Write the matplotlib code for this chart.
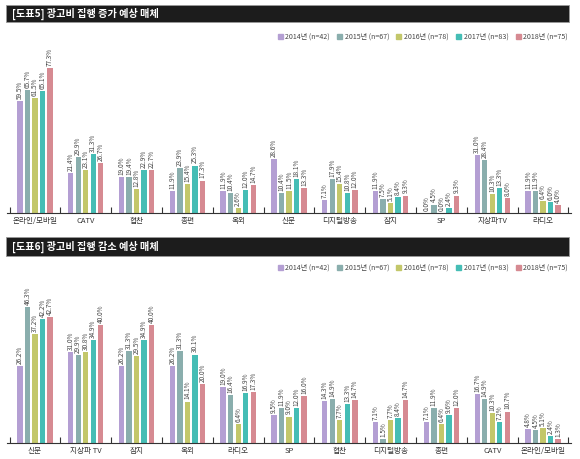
import numpy as np
import matplotlib
matplotlib.use("Agg")
import matplotlib.pyplot as plt
from matplotlib.patches import Rectangle

plt.rcParams['font.family'] = ['Noto Sans CJK KR', 'DejaVu Sans']

series = ['2014년 (n=42)', '2015년 (n=67)', '2016년 (n=78)', '2017년 (n=83)', '2018년 (n=75)']
colors = ['#b49fd3', '#8aaead', '#c3c76a', '#45bdb5', '#d68a92']

# [도표5] 증가 예상
inc_cats = ['온라인/모바일', 'CATV', '협찬', '종편', '옥외', '신문', '디지털방송', '잡지', 'SP', '지상파TV', '라디오']
inc_2014 = [59.5, 21.4, 19.0, 11.9, 11.9, 28.6, 7.1, 11.9, 0.0, 31.0, 11.9]
inc_2015 = [65.7, 29.9, 19.4, 23.9, 10.4, 10.4, 17.9, 7.5, 4.5, 28.4, 11.9]
inc_2016 = [61.5, 23.1, 12.8, 15.4, 2.6, 11.5, 15.4, 5.1, 0.0, 10.3, 6.4]
inc_2017 = [65.1, 31.3, 22.9, 25.3, 12.0, 18.1, 10.8, 8.4, 2.4, 13.3, 6.0]
inc_2018 = [77.3, 26.7, 22.7, 17.3, 14.7, 13.3, 12.0, 9.3, 9.3, 8.0, 4.0]

# [도표6] 감소 예상
dec_cats = ['신문', '지상파 TV', '잡지', '옥외', '라디오', 'SP', '협찬', '디지털방송', '종편', 'CATV', '온라인/모바일']
dec_2014 = [26.2, 31.0, 26.2, 26.2, 19.0, 9.5, 14.3, 7.1, 7.1, 16.7, 4.8]
dec_2015 = [46.3, 29.9, 31.3, 31.3, 16.4, 11.9, 14.9, 1.5, 11.9, 14.9, 4.5]
dec_2016 = [37.2, 30.8, 29.5, 14.1, 6.4, 9.0, 7.7, 7.7, 6.4, 10.3, 5.1]
dec_2017 = [42.2, 34.9, 34.9, 30.1, 16.9, 12.0, 13.3, 8.4, 9.6, 7.2, 2.4]
dec_2018 = [42.7, 40.0, 40.0, 20.0, 17.3, 16.0, 14.7, 14.7, 12.0, 10.7, 1.3]

W, H = 580, 459
fig = plt.figure(figsize=(5.8, 4.59), dpi=100)


def px_axes(x0, y_top, x1, y_bottom):
    return fig.add_axes([x0 / W, 1 - y_bottom / H, (x1 - x0) / W, (y_bottom - y_top) / H])


def title_bar(y_top, y_bottom, text):
    fig.patches.append(Rectangle((6 / W, 1 - y_bottom / H), 563 / W, (y_bottom - y_top) / H,
                                 transform=fig.transFigure, facecolor='#1c1c1c',
                                 edgecolor='#999999', lw=0.6))
    fig.text(12 / W, 1 - (y_top + y_bottom) / 2 / H, text, color='white', fontsize=7.3,
             fontweight='bold', va='center', ha='left')


def panel(ax, cats, data, ymax):
    x = np.arange(len(cats))
    step, width = 0.148, 0.105
    for k, vals in enumerate(data):
        pos = x + (k - 2) * step
        ax.bar(pos, vals, width, color=colors[k], label=series[k])
        for p, v in zip(pos, vals):
            ax.annotate(f'{v:.1f}%', (p, v), xytext=(0, 1.5), textcoords='offset points',
                        rotation=90, ha='center', va='bottom', fontsize=4.6, color='#444444',
                        annotation_clip=False)
    ax.set_xlim(-0.55, len(cats) - 0.45)
    ax.set_ylim(0, ymax)
    ax.set_yticks([])
    for s in ['top', 'right', 'left']:
        ax.spines[s].set_visible(False)
    ax.spines['bottom'].set_color('#333333')
    ax.spines['bottom'].set_linewidth(0.8)
    ax.set_xticks(x)
    ax.set_xticklabels(cats, fontsize=5.5, color='#333333')
    ax.tick_params(axis='x', which='major', length=0, pad=3)
    ax.set_xticks(np.arange(len(cats) + 1) - 0.5, minor=True)
    ax.tick_params(axis='x', which='minor', direction='in', length=4, width=0.8, color='#333333')
    ax.patch.set_alpha(0)


def legend(y):
    handles = [Rectangle((0, 0), 1, 1, color=c) for c in colors]
    fig.legend(handles, series, loc='center right', bbox_to_anchor=(568 / W, 1 - y / H),
               ncol=5, frameon=False, fontsize=5.1, handlelength=0.7, handleheight=0.7,
               handletextpad=0.4, columnspacing=1.0, labelcolor='#444444',
               borderaxespad=0, borderpad=0)


title_bar(5, 22, '[도표5] 광고비 집행 증가 예상 매체')
legend(37)
ax1 = px_axes(7, 60, 571, 213)
panel(ax1, inc_cats, [inc_2014, inc_2015, inc_2016, inc_2017, inc_2018], 153 / 1.876)

title_bar(237, 256, '[도표6] 광고비 집행 감소 예상 매체')
legend(268)
ax2 = px_axes(7, 290, 571, 443)
panel(ax2, dec_cats, [dec_2014, dec_2015, dec_2016, dec_2017, dec_2018], 153 / 2.94)

fig.savefig('out.png', dpi=100)
